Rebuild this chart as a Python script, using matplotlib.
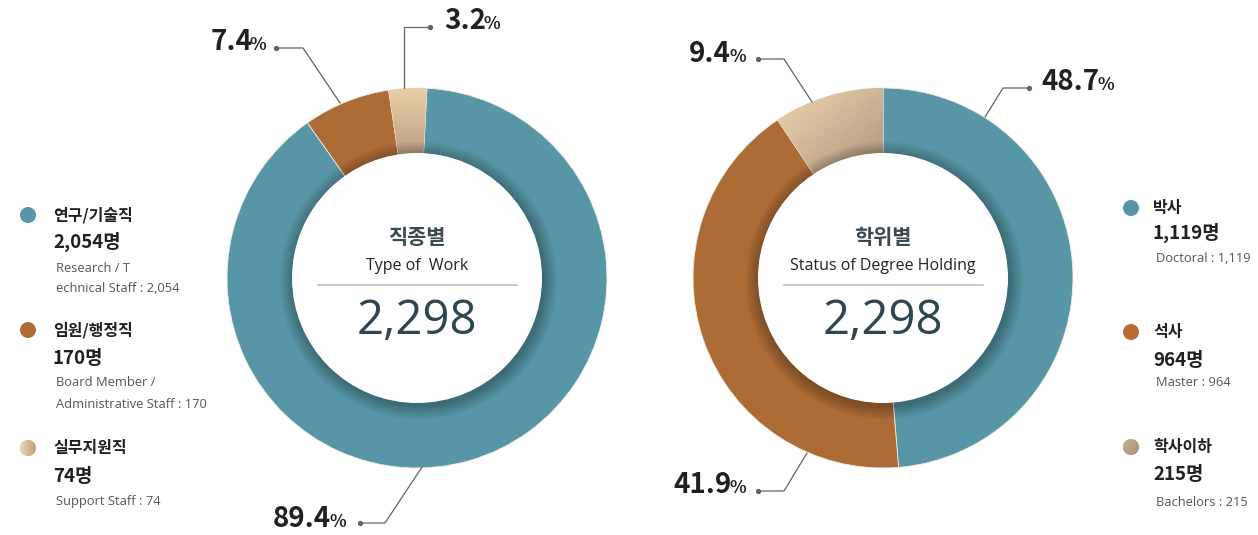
import numpy as np
import matplotlib
matplotlib.use("Agg")
import matplotlib.pyplot as plt
import matplotlib.colors as mcolors
from matplotlib.patches import Circle

plt.rcParams['font.family'] = ['Noto Sans CJK KR', 'DejaVu Sans']

# ---------------- data ----------------
type_title_ko = '직종별'
type_title_en = 'Type of  Work'
type_labels_ko = ['연구/기술직', '임원/행정직', '실무지원직']
type_counts = [2054, 170, 74]
type_desc = ['Research / T\nechnical Staff : 2,054',
             'Board Member /\nAdministrative Staff : 170',
             'Support Staff : 74']
type_pct = ['89.4', '7.4', '3.2']

deg_title_ko = '학위별'
deg_title_en = 'Status of Degree Holding'
deg_labels_ko = ['박사', '석사', '학사이하']
deg_counts = [1119, 964, 215]
deg_desc = ['Doctoral : 1,119', 'Master : 964', 'Bachelors : 215']
deg_pct = ['48.7', '41.9', '9.4']

# ---------------- style ----------------
W, H = 1258, 535
TEAL = '#5796a6'
BROWN = '#ad6b35'
TAN = '#d6bb95'
TEXT_DARK = '#231f20'
CENTER_COL = '#2f4650'
LINE_COL = '#56666c'


def Y(y):
    return H - y


fig = plt.figure(figsize=(W / 100, H / 100), dpi=100)
ax = fig.add_axes([0, 0, 1, 1])
ax.set_axis_off()


def gradient(patch, c1, c2, extent, direction, zorder):
    n = 120
    xs = np.linspace(0, 1, n)
    X, Yg = np.meshgrid(xs, xs)
    dx, dy = direction
    t = X * dx + Yg * dy
    t = (t - t.min()) / (t.max() - t.min())
    a = np.array(mcolors.to_rgb(c1))
    b = np.array(mcolors.to_rgb(c2))
    rgb = (1 - t)[..., None] * a + t[..., None] * b
    im = ax.imshow(rgb, extent=extent, origin='lower', zorder=zorder,
                   interpolation='bilinear', aspect='auto')
    im.set_clip_path(patch)


def donut(cx, cy, values, colors, start, tan_grad, title_ko, title_en):
    wedges, _ = ax.pie(values, colors=colors, center=(cx, Y(cy)), radius=190,
                       startangle=start, counterclock=False,
                       wedgeprops=dict(width=66, linewidth=0.6, edgecolor='#f3ede5'),
                       frame=True)
    # gradient on tan slice, spread over the slice's own bounding box
    c1, c2, direction = tan_grad
    bb = wedges[2].get_path().get_extents()
    gradient(wedges[2], c1, c2, (bb.x0, bb.x1, bb.y0, bb.y1),
             direction, zorder=wedges[2].get_zorder() + 0.1)
    # inner soft shadow + white disc
    for k in range(14):
        r = 125 + 14 - k
        ax.add_patch(Circle((cx + 1.5, Y(cy) - 2.5), r, facecolor='black',
                            alpha=0.018, edgecolor='none', zorder=5))
    ax.add_patch(Circle((cx, Y(cy)), 125, facecolor='white', edgecolor='none', zorder=6))
    ax.text(cx, Y(cy - 41), title_ko, ha='center', va='center', fontsize=15,
            fontweight='bold', color='#3b4a50', zorder=7)
    ax.text(cx, Y(cy - 12), title_en, ha='center', va='center', fontsize=11.5,
            family=['Open Sans', 'DejaVu Sans'], color='#222222', zorder=7)
    ax.plot([cx - 99, cx + 100], [Y(cy + 7), Y(cy + 7)], color='#b8b8b8', lw=1.1, zorder=7)
    total = sum(values)
    ax.text(cx, Y(cy + 43), f'{total:,}', ha='center', va='center', fontsize=34,
            family=['Open Sans', 'DejaVu Sans'], fontweight='normal', color=CENTER_COL, zorder=7)


donut(417, 278, type_counts, [TEAL, BROWN, TAN], 87,
      ('#ead0a9', '#bca183', (0, -1)), type_title_ko, type_title_en)
donut(883, 278, deg_counts, [TEAL, BROWN, TAN], 90,
      ('#efd6b0', '#ad947b', (1, -1)), deg_title_ko, deg_title_en)


# ---------------- percentage labels with leader lines ----------------
def pct_label(num, split_x, base_y, pts):
    ax.text(split_x, Y(base_y), num, ha='right', va='baseline', fontsize=20,
            fontweight='bold', color=TEXT_DARK)
    ax.text(split_x - 2, Y(base_y), '%', ha='left', va='baseline', fontsize=12.5,
            fontweight='bold', color=TEXT_DARK)
    xs = [p[0] for p in pts]
    ys = [Y(p[1]) for p in pts]
    ax.plot(xs, ys, color=LINE_COL, lw=0.9, zorder=8, solid_capstyle='round')
    ax.plot(xs[0], ys[0], 'o', color=LINE_COL, ms=2.8, zorder=8)


# left donut
pct_label(type_pct[0], 331, 527, [(360, 523), (385, 523), (422, 467)])
pct_label(type_pct[1], 252, 50, [(276, 48), (303, 48), (340, 103)])
pct_label(type_pct[2], 486, 29, [(430, 27), (404, 27), (404, 88)])
# right donut
pct_label(deg_pct[0], 1099, 90, [(1029, 88), (1003, 88), (985, 117)])
pct_label(deg_pct[1], 732, 493, [(758, 491), (784, 491), (807, 453)])
pct_label(deg_pct[2], 731, 62, [(758, 59), (784, 59), (812, 102)])


# ---------------- legends ----------------
def legend_item(dot_x, text_x, y_title, y_count, y_desc, label, count, desc, color, grad=None):
    c = Circle((dot_x, Y(y_title)), 8, facecolor=color, edgecolor='none', zorder=5)
    ax.add_patch(c)
    if grad is not None:
        gradient(c, grad[0], grad[1], (dot_x - 8, dot_x + 8, Y(y_title) - 8, Y(y_title) + 8),
                 grad[2], zorder=5.5)
    ax.text(text_x, Y(y_title), label, ha='left', va='center', fontsize=11.5,
            fontweight='bold', color=TEXT_DARK)
    ax.text(text_x, Y(y_count), f'{count:,}명', ha='left', va='center', fontsize=13.5,
            fontweight='bold', color=TEXT_DARK)
    for i, line in enumerate(desc.split('\n')):
        ax.text(text_x + 3, Y(y_desc + i * 21), line, ha='left', va='center', fontsize=9.3,
                family=['Open Sans', 'DejaVu Sans'], color='#555555')


left_cols = [TEAL, BROWN, TAN]
left_grads = [None, None, ('#ecd6b6', '#bc9f7c', (1, 0))]
left_rows = [(215, 242, 268), (330, 358, 383), (448, 476, 502)]
for i in range(3):
    legend_item(28, 53, *left_rows[i], type_labels_ko[i], type_counts[i], type_desc[i],
                left_cols[i], left_grads[i])

right_cols = [TEAL, '#b96a35', '#b8a082']
right_grads = [None, None, ('#c9b294', '#a89071', (1, -1))]
right_rows = [(208, 233, 259), (332, 360, 382), (447, 475, 502)]
for i in range(3):
    legend_item(1131, 1153, *right_rows[i], deg_labels_ko[i], deg_counts[i], deg_desc[i],
                right_cols[i], right_grads[i])

ax.set_xlim(0, W)
ax.set_ylim(0, H)
ax.set_aspect('auto')
ax.set_axis_off()

fig.savefig('out.png', dpi=100, facecolor='white')
